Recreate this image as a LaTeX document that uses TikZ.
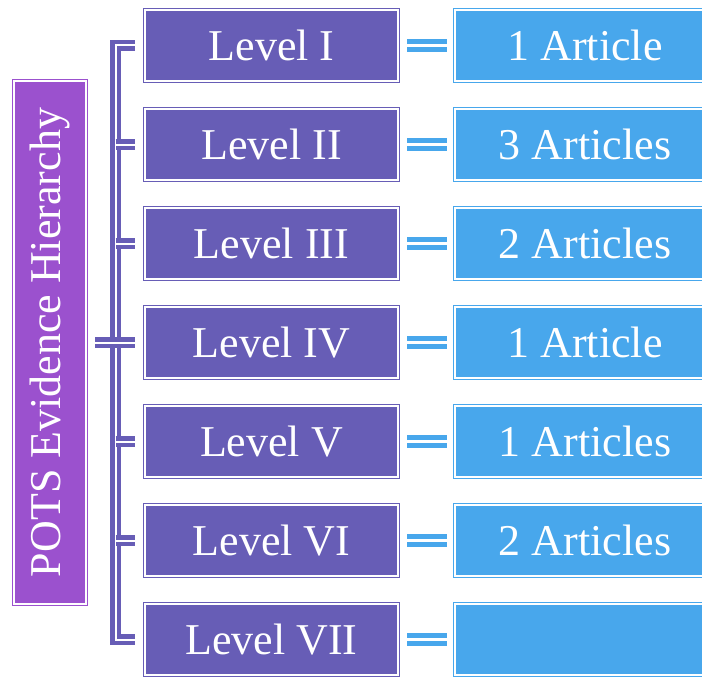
\documentclass[tikz,border=0pt]{standalone}
\usepackage{fontspec}
\setmainfont{Liberation Serif}
\usetikzlibrary{positioning}
\definecolor{rootpurple}{RGB}{155,81,206}
\definecolor{levelpurple}{RGB}{103,93,182}
\definecolor{articleblue}{RGB}{72,167,236}

\begin{document}
\begin{tikzpicture}[x=1pt, y=-1pt, node distance=99pt, on grid,
    box/.style={fill=#1, draw=#1, double=white, double distance=2pt, line width=1.2pt,
      outer sep=2.2pt, inner sep=0pt, text=white, font=\fontsize{44}{50}\selectfont},
    level/.style={box=levelpurple, minimum width=252.6pt, minimum height=70.6pt},
    article/.style={box=articleblue, minimum width=259.6pt, minimum height=70.6pt},
    bracket/.style={draw=levelpurple, double=white, double distance=2pt, line width=4.3pt},
    equal/.style={draw=articleblue, double=white, double distance=3.5pt, line width=4.5pt}]
        \useasboundingbox (0,0) rectangle (702,677);

        \node[box=rootpurple, minimum width=71.6pt, minimum height=522.6pt]
          (root) at (50,342.5) {\rotatebox{90}{POTS Evidence Hierarchy}};

        \node[level] (l1) at (271.5,45.5) {Level I};
        \node[level] (l2) [below=of l1] {Level II};
        \node[level] (l3) [below=of l2] {Level III};
        \node[level] (l4) [below=of l3] {Level IV};
        \node[level] (l5) [below=of l4] {Level V};
        \node[level] (l6) [below=of l5] {Level VI};
        \node[level] (l7) [below=of l6] {Level VII};

        \node[article] (a1) [right=313.5pt of l1] {1 Article};
        \node[article] (a2) [right=313.5pt of l2] {3 Articles};
        \node[article] (a3) [right=313.5pt of l3] {2 Articles};
        \node[article] (a4) [right=313.5pt of l4] {1 Article};
        \node[article] (a5) [right=313.5pt of l5] {1 Articles};
        \node[article] (a6) [right=313.5pt of l6] {2 Articles};
        \node[article] (a7) [right=313.5pt of l7] {};

        % bracket from the root to the levels
        \coordinate (spine) at (115.5,0);
        \draw[bracket, shorten <=8pt, shorten >=8pt] (l1.west) -| (spine |- l7.west) -- (l7.west);
        \foreach \n in {2,...,6}
          \draw[bracket, shorten >=8pt] (spine |- l\n.west) -- (l\n.west);
        \draw[bracket, shorten <=7pt, shorten >=8pt] (root) -- (l4);

        \foreach \n in {1,...,7}
          \draw[equal, shorten <=7pt, shorten >=6pt] (l\n) -- (a\n);
      \end{tikzpicture}
\end{document}
